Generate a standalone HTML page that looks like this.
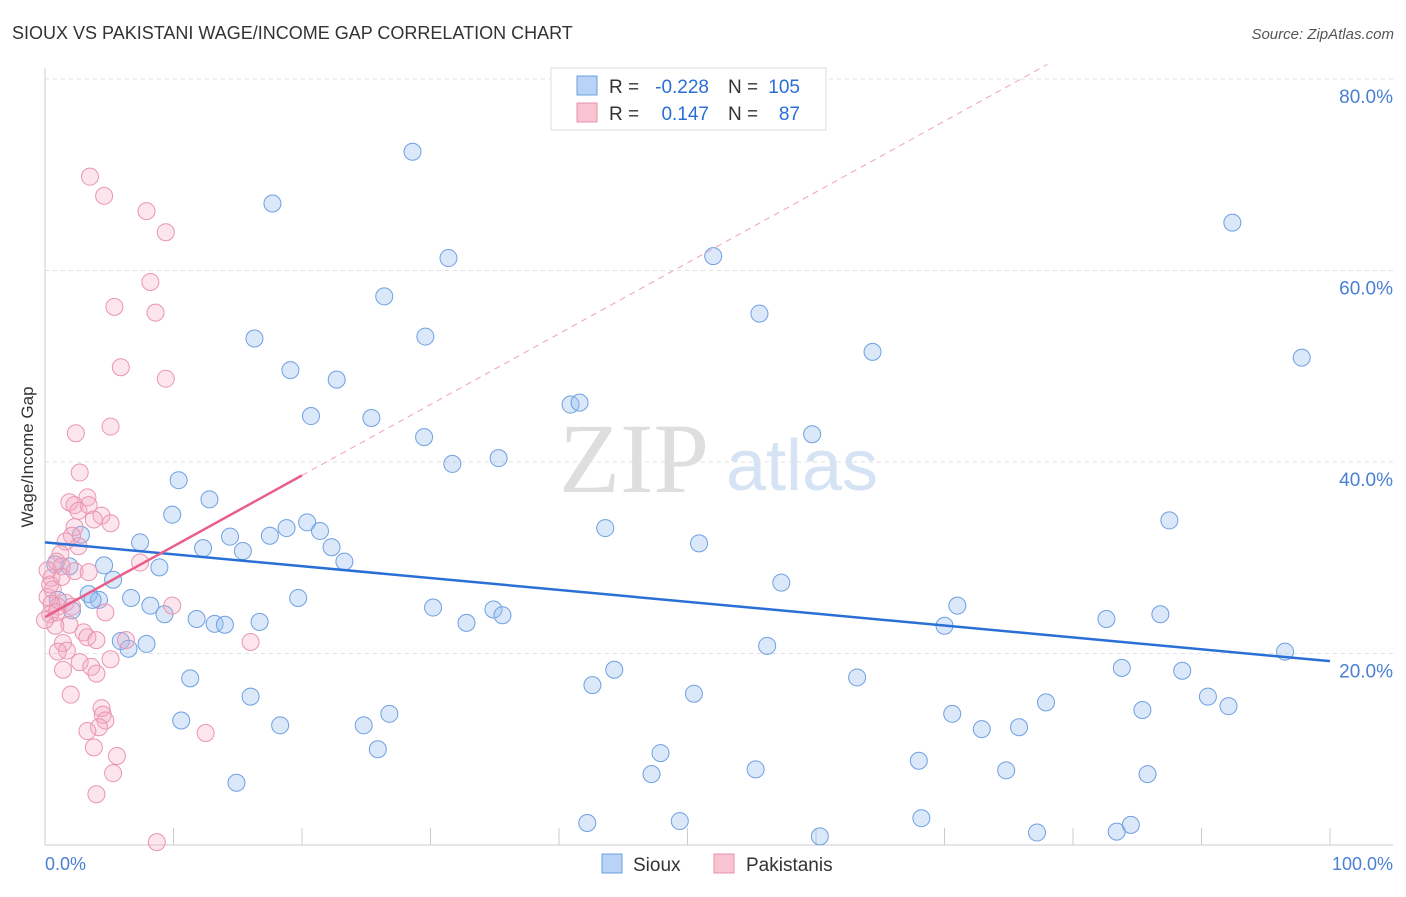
<!DOCTYPE html>
<html><head><meta charset="utf-8"><style>
body{margin:0;background:#fff;font-family:"Liberation Sans",sans-serif}
svg text{font-family:"Liberation Sans",sans-serif}
</style></head><body>
<svg id="chart" width="1406" height="892" viewBox="0 0 1406 892" xmlns="http://www.w3.org/2000/svg">
<text x="12" y="39" font-size="18" fill="#333">SIOUX VS PAKISTANI WAGE/INCOME GAP CORRELATION CHART</text>
<text x="1394" y="39" font-size="15" fill="#555" text-anchor="end" font-style="italic">Source: ZipAtlas.com</text>
<g>
<text x="634" y="492" font-size="100" fill="#dedede" style="font-family:'Liberation Serif',serif" text-anchor="middle">ZIP</text>
<text x="802" y="490" font-size="72" fill="#d5e3f5" text-anchor="middle">atlas</text>
</g>
<g id="grid"></g>
<g id="axes"></g>
<g id="pts"></g>
<g id="trends"></g>
<text transform="translate(33,457) rotate(-90)" font-size="17" fill="#333" text-anchor="middle">Wage/Income Gap</text>
<text x="45" y="870" font-size="18" fill="#4a7fd4">0.0%</text>
<text x="1393" y="870" font-size="18" fill="#4a7fd4" text-anchor="end">100.0%</text>
<g>
<rect x="551" y="68" width="275" height="62" fill="#fff" stroke="#ddd"/>
<rect x="577" y="76" width="20" height="19" fill="#b8d3f5" stroke="#6a9fe0"/>
<rect x="577" y="103" width="20" height="19" fill="#f8c4d2" stroke="#e890a8"/>
<text x="609" y="93" font-size="19" fill="#333">R =</text>
<text x="709" y="93" font-size="19" fill="#2a6fd6" text-anchor="end">-0.228</text>
<text x="728" y="93" font-size="19" fill="#333">N =</text>
<text x="800" y="93" font-size="19" fill="#2a6fd6" text-anchor="end">105</text>
<text x="609" y="120" font-size="19" fill="#333">R =</text>
<text x="709" y="120" font-size="19" fill="#2a6fd6" text-anchor="end">0.147</text>
<text x="728" y="120" font-size="19" fill="#333">N =</text>
<text x="800" y="120" font-size="19" fill="#2a6fd6" text-anchor="end">87</text>
</g>
<g>
<rect x="602" y="854" width="20" height="19" fill="#b8d3f5" stroke="#6a9fe0"/>
<text x="633" y="871" font-size="19" fill="#333">Sioux</text>
<rect x="714" y="854" width="20" height="19" fill="#f8c4d2" stroke="#e890a8"/>
<text x="746" y="871" font-size="19" fill="#333">Pakistanis</text>
</g>
</svg>
<script>
const yTicks=[20,40,60,80];
const yTickLabels=["20.0%","40.0%","60.0%","80.0%"];
const xTicks=[0,10,20,30,40,50,60,70,80,90,100];
const siouxX=[28.6,17.7,31.4,52.0,92.4,26.4,16.3,29.6,55.6,64.4,97.8,19.1,22.7,20.7,25.4,40.9,41.6,29.5,59.7,31.7,35.3,10.4,12.8,9.9,20.4,18.8,17.5,14.4,21.4,43.6,50.9,87.5,7.4,12.3,15.4,22.3,23.3,2.8,0.8,1.9,4.6,8.9,5.3,57.3,3.4,4.2,3.7,6.7,8.2,9.3,19.7,30.2,34.9,35.6,71.0,82.6,86.8,11.8,13.2,14.0,16.7,32.8,70.0,5.9,7.9,6.5,56.2,96.5,83.8,88.5,11.3,44.3,42.6,63.2,50.5,16.0,77.9,90.5,92.1,85.4,10.6,18.3,24.8,26.8,70.6,72.9,75.8,47.9,25.9,47.2,55.3,68.0,74.8,85.8,14.9,42.2,49.4,60.3,68.2,77.2,83.4,84.5,2.1,1.0];
const siouxY=[72.4,67.0,61.3,61.5,65.0,57.3,52.9,53.1,55.5,51.5,50.9,49.6,48.6,44.8,44.6,46.0,46.2,42.6,42.9,39.8,40.4,38.1,36.1,34.5,33.7,33.1,32.3,32.2,32.8,33.1,31.5,33.9,31.6,31.0,30.7,31.1,29.6,32.4,29.3,29.1,29.2,29.0,27.7,27.4,26.2,25.6,25.6,25.8,25.0,24.1,25.8,24.8,24.6,24.0,25.0,23.6,24.1,23.6,23.1,23.0,23.3,23.2,22.9,21.3,21.0,20.5,20.8,20.2,18.5,18.2,17.4,18.3,16.7,17.5,15.8,15.5,14.9,15.5,14.5,14.1,13.0,12.5,12.5,13.7,13.7,12.1,12.3,9.6,10.0,7.4,7.9,8.8,7.8,7.4,6.5,2.3,2.5,0.9,2.8,1.3,1.4,2.1,24.5,25.6];
const pakX=[3.5,4.6,7.9,9.4,8.2,5.4,8.6,5.9,9.4,5.1,2.4,2.7,1.9,3.3,2.3,2.6,3.4,4.4,5.1,3.8,2.3,2.1,2.6,1.6,1.2,0.9,1.3,0.5,1.3,2.3,3.4,7.4,0.6,0.2,0.5,1.0,1.6,0.4,0.9,2.1,4.7,9.9,1.9,3.0,3.3,4.0,6.3,16.0,1.4,1.7,1.0,2.7,5.1,3.6,4.0,1.4,2.0,4.4,4.5,4.7,4.2,3.3,3.8,5.6,5.3,12.5,4.0,8.7,0.4,0.2,0.8,0.0];
const pakY=[69.8,67.8,66.2,64.0,58.8,56.2,55.6,49.9,48.7,43.7,43.0,38.9,35.8,36.3,35.5,34.9,35.5,34.4,33.6,34.0,33.2,32.3,31.2,31.7,30.4,29.6,29.1,27.9,28.0,28.6,28.5,29.5,26.7,25.9,25.2,24.9,25.3,24.1,24.3,24.9,24.3,25.0,23.0,22.2,21.7,21.4,21.4,21.2,21.1,20.3,20.2,19.1,19.4,18.6,17.9,18.3,15.7,14.3,13.6,13.0,12.3,11.9,10.2,9.3,7.5,11.7,5.3,0.3,27.2,28.7,22.9,23.5];
const siouxTrend=[31.6,19.2];
const pakTrend=[23.8,0.74];
const pakSolidEnd=20, pakDashEnd=78;

const X=v=>45+v*12.85, Y=v=>845-v*9.575;
const NS="http://www.w3.org/2000/svg";
function mk(tag,attrs,parent){const e=document.createElementNS(NS,tag);for(const k in attrs)e.setAttribute(k,attrs[k]);parent.appendChild(e);return e;}
const grid=document.getElementById('grid'),axes=document.getElementById('axes'),pts=document.getElementById('pts'),tr=document.getElementById('trends');
const topLine=mk('line',{x1:45,x2:1393,y1:79,y2:79,stroke:'#ddd','stroke-dasharray':'4,4'},grid);


yTicks.forEach((t,i)=>{
 const l=mk('line',{x1:45,x2:1393,y1:Y(t),y2:Y(t),stroke:'#e2e2e2','stroke-dasharray':'4,4'},grid);
 
 
 const tx=mk('text',{x:1393,y:Y(t)+24,'font-size':19,fill:'#4a7fd4','text-anchor':'end'},axes);
 tx.textContent=yTickLabels[i];
 
 
});
const ax=mk('line',{x1:45,x2:1393,y1:845,y2:845,stroke:'#ccc'},axes);


const ay=mk('line',{x1:45,x2:45,y1:68,y2:845,stroke:'#ccc'},axes);


xTicks.forEach(t=>{
 const l=mk('line',{x1:X(t),x2:X(t),y1:828,y2:845,stroke:'#ccc'},axes);
 
 
});
siouxX.forEach((v,i)=>{
 const c=mk('circle',{cx:X(v),cy:Y(siouxY[i]),r:8.5,fill:'rgba(150,190,240,0.35)',stroke:'#6fa0e0','stroke-width':1},pts);
 
 
});
pakX.forEach((v,i)=>{
 const c=mk('circle',{cx:X(v),cy:Y(pakY[i]),r:8.5,fill:'rgba(244,170,195,0.3)',stroke:'#e996b0','stroke-width':1},pts);
 
 
});
const bl=mk('line',{x1:X(0),y1:Y(siouxTrend[0]),x2:X(100),y2:Y(siouxTrend[1]),stroke:'#2a6fd6','stroke-width':2.5},tr);


const pf=x=>pakTrend[0]+pakTrend[1]*x;
const pd=mk('line',{x1:X(pakSolidEnd),y1:Y(pf(pakSolidEnd)),x2:X(pakDashEnd),y2:Y(pf(pakDashEnd)),stroke:'#f0a0b8','stroke-width':1,'stroke-dasharray':'6,5'},tr);


const ps=mk('line',{x1:X(0),y1:Y(pf(0)),x2:X(pakSolidEnd),y2:Y(pf(pakSolidEnd)),stroke:'#e8608a','stroke-width':2.5},tr);


</script>
</body></html>
